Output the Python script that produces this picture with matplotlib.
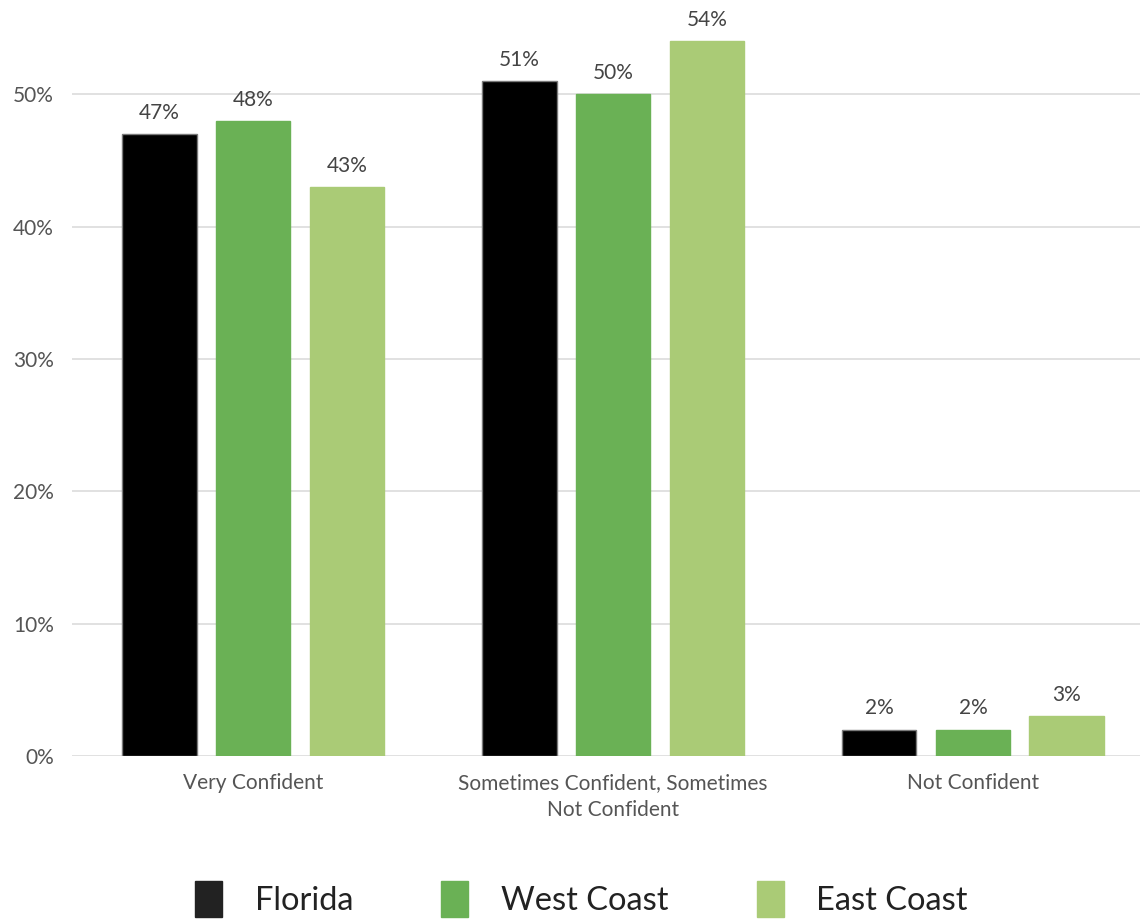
import matplotlib.pyplot as plt
import numpy as np

plt.rcParams['font.family'] = ['Lato', 'DejaVu Sans']

categories = ['Very Confident', 'Sometimes Confident, Sometimes\nNot Confident', 'Not Confident']
series_names = ['Florida', 'West Coast', 'East Coast']
florida = [47, 51, 2]
west_coast = [48, 50, 2]
east_coast = [43, 54, 3]
y_ticks = [0, 10, 20, 30, 40, 50]

colors = ['#000000', '#6ab155', '#aacb76']
edges = ['#7a7a7a', '#6ab155', '#aacb76']
legend_colors = ['#222222', '#6ab155', '#aacb76']

fig = plt.figure(figsize=(11.4, 9.23), dpi=100)
ax = fig.add_axes([72 / 1140, 167 / 923, 1 - 72 / 1140, (756 - 28) / 923])

ind = np.arange(len(categories))
width = 0.208
offset = 0.261

for i, vals in enumerate([florida, west_coast, east_coast]):
    xs = ind + (i - 1) * offset
    ax.bar(xs, vals, width=width, color=colors[i], edgecolor=edges[i], linewidth=1,
           label=series_names[i], zorder=3)
    for x, v in zip(xs, vals):
        ax.annotate(f'{v}%', xy=(x, v), xytext=(0, 8), textcoords='offset points',
                    ha='center', va='bottom', fontsize=15, color='#444444')

ax.set_xlim(-0.503, 2.464)
ax.set_ylim(0, 55)
ax.set_yticks(y_ticks)
ax.set_yticklabels([f'{t}%' for t in y_ticks])
ax.set_xticks(ind)
ax.set_xticklabels(categories, linespacing=1.45)

ax.grid(axis='y', color='#dcdcdc', linewidth=1.2, zorder=0)
for s in ax.spines.values():
    s.set_visible(False)
ax.tick_params(axis='both', length=0, labelsize=15, labelcolor='#555555')
ax.tick_params(axis='y', pad=13)
ax.tick_params(axis='x', pad=12)

handles = [plt.Rectangle((0, 0), 1, 1, color=c) for c in legend_colors]
fig.legend(handles, series_names, loc='center', bbox_to_anchor=(0.51, 0.026), ncol=3,
           frameon=False, fontsize=23.5, handlelength=0.83, handleheight=1.29,
           handletextpad=1.0, columnspacing=2.7, labelcolor='#222222')

fig.savefig('out.png', dpi=100)
